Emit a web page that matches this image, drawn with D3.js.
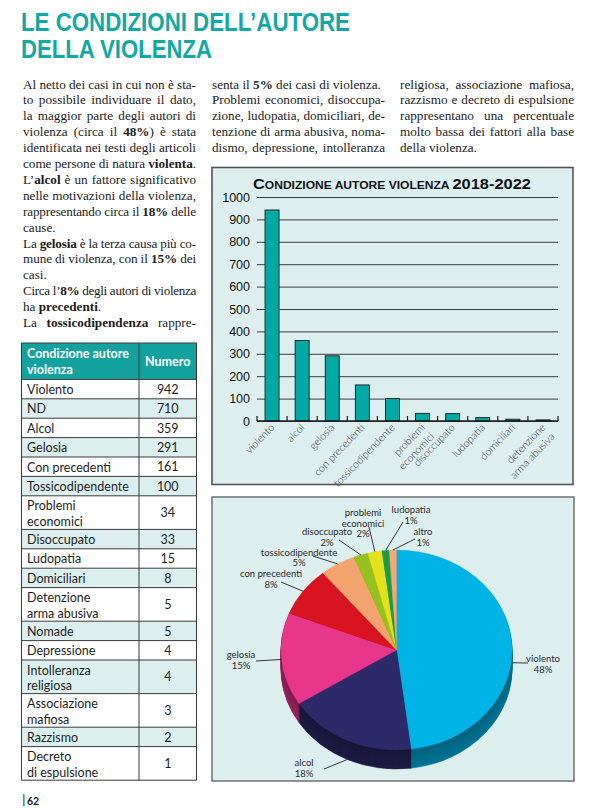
<!DOCTYPE html>
<html>
<head>
<meta charset="utf-8">
<style>
 body { margin: 0; background: #fff; }
 svg { display: block; }
 .title { font-family: "Liberation Sans Narrow", "Arial Narrow", sans-serif; font-weight: bold; font-size: 26px; fill: #12a8a6; }
 .prose { font-family: "Liberation Serif", serif; font-size: 13.2px; fill: #1c1c1c; }
 .prose .b { font-weight: bold; }
 .tbl text { font-family: Lato, "Noto Sans", sans-serif; font-size: 12.5px; fill: #1e1e1e; }
 .tbl .head text { fill: #fff; font-weight: bold; }
 .bars .tick text { font-family: "Liberation Sans", Arial, sans-serif; font-size: 12.5px; fill: #111; }
 .bars .tick line { stroke: #3c3c3c; stroke-width: 1; }
 .xlab { font-family: Lato, sans-serif; font-weight: 300; font-size: 10.5px; fill: #3a3a3a; }
 .plab { font-family: Lato, sans-serif; font-size: 9.5px; fill: #2a2a2a; }
</style>
</head>
<body>
<svg id="page" width="603" height="808"></svg>
<script src="https://cdn.jsdelivr.net/npm/d3@7/dist/d3.min.js"></script>
<script>
 // ---- data ----
 var tableLabels = [
   ["Violento"], ["ND"], ["Alcol"], ["Gelosia"], ["Con precedenti"], ["Tossicodipendente"],
   ["Problemi", "economici"], ["Disoccupato"], ["Ludopatia"], ["Domiciliari"],
   ["Detenzione", "arma abusiva"], ["Nomade"], ["Depressione"], ["Intolleranza", "religiosa"],
   ["Associazione", "mafiosa"], ["Razzismo"], ["Decreto", "di espulsione"]
 ];
 var tableValues = [942, 710, 359, 291, 161, 100, 34, 33, 15, 8, 5, 5, 4, 4, 3, 2, 1];

 var barLabels = [
   ["violento"], ["alcol"], ["gelosia"], ["con precedenti"], ["tossicodipendente"],
   ["problemi", "economici"], ["disoccupato"], ["ludopatia"], ["domiciliari"],
   ["detenzione", "arma abusiva"]
 ];
 var barValues = [942, 359, 291, 161, 100, 34, 33, 15, 8, 5];
 var yTicks = [0, 100, 200, 300, 400, 500, 600, 700, 800, 900, 1000];

 var pieLabels = [["violento"], ["alcol"], ["gelosia"], ["con precedenti"], ["tossicodipendente"],
                  ["disoccupato"], ["problemi", "economici"], ["ludopatia"], ["altro"]];
 var piePercents = [48, 18, 15, 8, 5, 2, 2, 1, 1];
 var pieColors = ["#00b3e6", "#2c2a69", "#e8378a", "#d7141f", "#f3a36d", "#95c11f", "#e3e11c", "#1a9b45", "#f2a878"];

 // text placement for the pie callouts (label centre, end of leader line, drop onto side wall)
 var pieCallouts = [
   { tx: 543, ty: 659, lx: 528, ly: 663, drop: true },
   { tx: 304, ty: 763, lx: 324, ly: 769, drop: true },
   { tx: 241, ty: 655, lx: 256, ly: 661, drop: false },
   { tx: 271, ty: 574, lx: 281, ly: 582, drop: false },
   { tx: 299, ty: 552.5, lx: 313, ly: 556, drop: false },
   { tx: 327, ty: 532, lx: 339, ly: 540, drop: false },
   { tx: 363, ty: 513, lx: 369, ly: 527, drop: false },
   { tx: 411, ty: 510, lx: 403, ly: 522, drop: false },
   { tx: 423, ty: 532, lx: 415, ly: 539, drop: false }
 ];

 var columns = [
   { x: 23, w: 173, lines: [
     ["Al netto dei casi in cui non è sta-", 1],
     ["to possibile individuare il dato,", 1],
     ["la maggior parte degli autori di", 1],
     ["violenza (circa il **48%**) è stata", 1],
     ["identificata nei testi degli articoli", 1],
     ["come persone di natura **violenta**.", 1],
     ["L’**alcol** è un fattore significativo", 1],
     ["nelle motivazioni della violenza,", 1],
     ["rappresentando circa il **18%** delle", 1],
     ["cause.", 0],
     ["La **gelosia** è la terza causa più co-", 1],
     ["mune di violenza, con il **15%** dei", 1],
     ["casi.", 0],
     ["Circa l’**8%** degli autori di violenza", 1],
     ["ha **precedenti**.", 0],
     ["La **tossicodipendenza** rappre-", 1]
   ]},
   { x: 212, w: 173, lines: [
     ["senta il **5%** dei casi di violenza.", 0],
     ["Problemi economici, disoccupa-", 1],
     ["zione, ludopatia, domiciliari, de-", 1],
     ["tenzione di arma abusiva, noma-", 1],
     ["dismo, depressione, intolleranza", 1]
   ]},
   { x: 400, w: 174, lines: [
     ["religiosa, associazione mafiosa,", 1],
     ["razzismo e decreto di espulsione", 1],
     ["rappresentano una percentuale", 1],
     ["molto bassa dei fattori alla base", 1],
     ["della violenza.", 0]
   ]}
 ];

 var svg = d3.select("#page");
 var teal = "#12a8a6";

 // ---- title ----
 var title = svg.append("text").attr("class", "title");
 title.append("tspan").attr("x", 21).attr("y", 31)
   .attr("textLength", 329).attr("lengthAdjust", "spacingAndGlyphs")
   .text("LE CONDIZIONI DELL’AUTORE");
 title.append("tspan").attr("x", 21).attr("y", 57.5)
   .attr("textLength", 191).attr("lengthAdjust", "spacingAndGlyphs")
   .text("DELLA VIOLENZA");

 // ---- prose ----
 columns.forEach(function(col) {
   col.lines.forEach(function(ln, i) {
     var t = svg.append("text").attr("class", "prose")
       .attr("x", col.x).attr("y", 88.5 + i * 15.9);
     ln[0].split("**").forEach(function(part, k) {
       if (part) t.append("tspan").attr("class", k % 2 ? "b" : null).text(part);
     });
     var natural = t.node().getComputedTextLength();
     var spaces = (ln[0].match(/ /g) || []).length;
     var chars = ln[0].replace(/\*/g, "").length;
     if (natural > col.w) {
       // tighten letters slightly so the line fits the column
       t.style("letter-spacing", ((col.w - natural) / chars) + "px");
     } else if (ln[1] && spaces) {
       t.style("word-spacing", ((col.w - natural) / spaces) + "px");
     }
   });
 });

 // ---- table ----
 var tbl = svg.append("g").attr("class", "tbl");
 var tx0 = 21.5, tx1 = 139, tx2 = 196.5, headTop = 343, headBot = 379.4;
 var rowH = function(d) { return d.length > 1 ? 33.6 : 19.4; };
 var rows = [], yy = headBot;
 tableLabels.forEach(function(l, i) {
   rows.push({ label: l, value: tableValues[i], y: yy, h: rowH(l), i: i });
   yy += rowH(l);
 });

 var head = tbl.append("g").attr("class", "head");
 head.append("rect").attr("x", tx0).attr("y", headTop).attr("width", tx2 - tx0).attr("height", headBot - headTop)
   .attr("fill", "#14a29e");
 head.append("text").attr("x", 27).attr("y", 358).text("Condizione autore");
 head.append("text").attr("x", 27).attr("y", 374).text("violenza");
 head.append("text").attr("x", (tx1 + tx2) / 2).attr("y", 366).attr("text-anchor", "middle").text("Numero");

 var row = tbl.selectAll("g.row").data(rows).join("g").attr("class", "row");
 row.append("rect").attr("x", tx0).attr("y", function(d) { return d.y; })
   .attr("width", tx2 - tx0).attr("height", function(d) { return d.h; })
   .attr("fill", function(d) { return d.i % 2 ? "#dcefef" : "#ffffff"; });
 row.each(function(d) {
   var g = d3.select(this);
   d.label.forEach(function(s, k) {
     g.append("text").attr("x", 27)
       .attr("y", d.y + (d.label.length > 1 ? 14.5 + k * 15.5 : 14.6)).text(s);
   });
   g.append("text").attr("x", (tx1 + tx2) / 2).attr("y", d.y + d.h / 2 + 4.6)
     .attr("text-anchor", "middle").text(d.value);
 });
 // grid lines of the table
 var hLines = [headTop, headBot].concat(rows.map(function(d) { return d.y + d.h; }));
 tbl.selectAll("line.h").data(hLines).join("line").attr("class", "h")
   .attr("x1", tx0).attr("x2", tx2).attr("y1", function(d) { return d; }).attr("y2", function(d) { return d; })
   .attr("stroke", "#3a3a3a").attr("stroke-width", 1);
 tbl.selectAll("line.v").data([tx0, tx1, tx2]).join("line").attr("class", "v")
   .attr("x1", function(d) { return d; }).attr("x2", function(d) { return d; })
   .attr("y1", headTop).attr("y2", hLines[hLines.length - 1])
   .attr("stroke", "#3a3a3a").attr("stroke-width", 1);

 // ---- bar chart ----
 var bars = svg.append("g").attr("class", "bars");
 bars.append("rect").attr("x", 212).attr("y", 167.5).attr("width", 361).attr("height", 317)
   .attr("fill", "#ddeeef").attr("stroke", "#555").attr("stroke-width", 1.6);

 var bt = bars.append("text").attr("x", 253).attr("y", 188.5)
   .attr("textLength", 278).attr("lengthAdjust", "spacingAndGlyphs")
   .style("font-family", "'Liberation Sans', Arial, sans-serif").style("font-weight", "bold").style("fill", "#111");
 bt.append("tspan").style("font-size", "15px").text("C");
 bt.append("tspan").style("font-size", "11px").text("ONDIZIONE AUTORE VIOLENZA ");
 bt.append("tspan").style("font-size", "15px").text("2018-2022");

 var x = d3.scaleBand().domain(d3.range(barValues.length)).range([257, 558]).padding(0);
 var y = d3.scaleLinear().domain([0, 1000]).range([421, 197]);
 var barW = 14;

 var yAxis = bars.append("g").attr("transform", "translate(257,0)")
   .call(d3.axisLeft(y).tickValues(yTicks).tickFormat(d3.format("d")).tickSize(-(558 - 257)).tickPadding(7));
 yAxis.select(".domain").remove();

 bars.selectAll("rect.bar").data(barValues).join("rect").attr("class", "bar")
   .attr("x", function(d, i) { return x(i) + (x.bandwidth() - barW) / 2; })
   .attr("y", function(d) { return y(d); })
   .attr("width", barW)
   .attr("height", function(d) { return y(0) - y(d); })
   .attr("fill", "#00a9a5").attr("stroke", "#1a1a1a").attr("stroke-width", 0.9);

 // baseline with separators between categories
 bars.append("line").attr("x1", 257).attr("x2", 558).attr("y1", y(0)).attr("y2", y(0))
   .attr("stroke", "#1a1a1a").attr("stroke-width", 1.6);
 var seps = d3.range(barValues.length + 1).map(function(i) { return 257 + i * x.step(); });
 bars.selectAll("line.sep").data(seps).join("line").attr("class", "sep")
   .attr("x1", function(d) { return d; }).attr("x2", function(d) { return d; })
   .attr("y1", y(0)).attr("y2", y(0) - 5).attr("stroke", "#1a1a1a").attr("stroke-width", 1.2);

 bars.selectAll("text.xlab").data(barLabels).join("text").attr("class", "xlab")
   .attr("text-anchor", "end")
   .attr("transform", function(d, i) {
     return "translate(" + (x(i) + x.bandwidth() / 2 + 3) + "," + (y(0) + 7) + ") rotate(-46)";
   })
   .each(function(d) {
     var t = d3.select(this);
     d.forEach(function(s, k) {
       t.append("tspan").attr("x", 0).attr("dy", k ? "1.25em" : 0).text(s);
     });
   });

 // ---- pie chart ----
 var pg = svg.append("g");
 pg.append("rect").attr("x", 212).attr("y", 497).attr("width", 362).attr("height", 284)
   .attr("fill", "#ddeeef").attr("stroke", "#666").attr("stroke-width", 1.4);

 var cx = 396.5, cy = 650, rx = 115.5, ry = 100, depth = 19;
 var arcs = d3.pie().sort(null).value(function(d) { return d; })(piePercents);
 var arc = d3.arc().innerRadius(0).outerRadius(rx);

 // side wall: stacked darker copies
 for (var k = depth; k >= 1; k--) {
   pg.append("g").attr("transform", "translate(" + cx + "," + (cy + k) + ") scale(1," + (ry / rx) + ")")
     .selectAll("path").data(arcs).join("path")
     .attr("d", arc)
     .attr("fill", function(d, i) { return d3.color(pieColors[i]).darker(1.7 - 0.5 * (k / depth)); })
     .attr("stroke", function(d, i) { return d3.color(pieColors[i]).darker(1.7 - 0.5 * (k / depth)); })
     .attr("stroke-width", 0.6);
 }
 pg.append("g").attr("transform", "translate(" + cx + "," + cy + ") scale(1," + (ry / rx) + ")")
   .selectAll("path").data(arcs).join("path")
   .attr("d", arc)
   .attr("fill", function(d, i) { return pieColors[i]; })
   .attr("stroke", function(d, i) { return pieColors[i]; })
   .attr("stroke-width", 0.4);

 arcs.forEach(function(a, i) {
   var c = pieCallouts[i];
   var m = (a.startAngle + a.endAngle) / 2;
   var sx = cx + rx * Math.sin(m), sy = cy - ry * Math.cos(m) + (c.drop ? depth : 0);
   pg.append("line").attr("x1", sx).attr("y1", sy).attr("x2", c.lx).attr("y2", c.ly)
     .attr("stroke", "#222").attr("stroke-width", 0.9);
   var lines = pieLabels[i].concat([piePercents[i] + "%"]);
   lines.forEach(function(s, k) {
     pg.append("text").attr("class", "plab").attr("text-anchor", "middle")
       .attr("x", c.tx).attr("y", c.ty + 3.3 + k * 10.4).text(s);
   });
 });

 // ---- folio ----
 svg.append("rect").attr("x", 23).attr("y", 794).attr("width", 1.6).attr("height", 12).attr("fill", teal);
 svg.append("text").attr("x", 27).attr("y", 804.5)
   .style("font-family", "Lato, sans-serif").style("font-weight", "bold").style("font-size", "10.5px").style("fill", "#222")
   .text("62");
</script>
</body>
</html>
